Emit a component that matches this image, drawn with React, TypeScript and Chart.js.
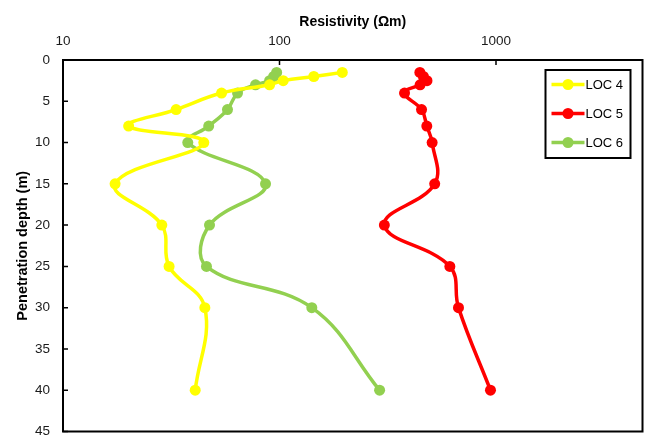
import React, { useEffect, useRef } from 'react';
import { Chart, registerables } from 'chart.js';

Chart.register(...registerables);

const depths = [1.5, 2, 2.5, 3, 4, 6, 8, 10, 15, 20, 25, 30, 40];
const loc4 = [195, 144, 104, 90, 54, 33.3, 20.1, 44.7, 17.4, 28.6, 30.9, 45.2, 40.8];
const loc5 = [445, 462, 480, 446, 378, 453, 479, 507, 521, 305, 612, 671, 943];
const loc6 = [97, 94, 90, 77.5, 64, 57.5, 47.1, 37.7, 86.2, 47.5, 46, 141, 290];
const seriesNames = ['LOC 4', 'LOC 5', 'LOC 6'];
const seriesColors = ['#FFFF00', '#FF0000', '#92D050'];
const xTickValues = [10, 100, 1000];
const xMin = 10;
const xMax = 4750;
const yMin = 0;
const yMax = 45;
const yStep = 5;
const xTitle = 'Resistivity (Ωm)';
const yTitle = 'Penetration depth (m)';

const FONT = '"Liberation Sans", Arial, sans-serif';

const framePlugin = {
  id: 'frameTicks',
  beforeDatasetsDraw(chart: any) {
    const { ctx, chartArea: a, scales } = chart;
    ctx.save();
    ctx.strokeStyle = '#000';
    ctx.lineWidth = 2;
    ctx.strokeRect(a.left, a.top, a.right - a.left, a.bottom - a.top);
    ctx.lineWidth = 1.5;
    ctx.beginPath();
    scales.x.ticks.forEach((t: any) => {
      const px = scales.x.getPixelForValue(t.value);
      ctx.moveTo(px, a.top);
      ctx.lineTo(px, a.top + 5);
    });
    scales.y.ticks.forEach((t: any) => {
      const py = scales.y.getPixelForValue(t.value);
      ctx.moveTo(a.left, py);
      ctx.lineTo(a.left + 5, py);
    });
    ctx.stroke();
    ctx.restore();
  },
};

const legendPlugin = {
  id: 'boxLegend',
  afterDraw(chart: any) {
    const { ctx, chartArea: a } = chart;
    const w = 85;
    const h = 88;
    const left = a.right - 12 - w;
    const top = a.top + 10;
    ctx.save();
    ctx.fillStyle = '#fff';
    ctx.fillRect(left, top, w, h);
    ctx.strokeStyle = '#000';
    ctx.lineWidth = 2;
    ctx.strokeRect(left, top, w, h);
    chart.data.datasets.forEach((ds: any, i: number) => {
      const y = top + 14.5 + i * 29;
      ctx.strokeStyle = ds.borderColor;
      ctx.lineWidth = 3.5;
      ctx.beginPath();
      ctx.moveTo(left + 6, y);
      ctx.lineTo(left + 39, y);
      ctx.stroke();
      ctx.fillStyle = ds.backgroundColor;
      ctx.beginPath();
      ctx.arc(left + 22.5, y, 5.5, 0, Math.PI * 2);
      ctx.fill();
      ctx.fillStyle = '#000';
      ctx.font = `13px ${FONT}`;
      ctx.textAlign = 'left';
      ctx.textBaseline = 'middle';
      ctx.fillText(ds.label, left + 40, y + 0.5);
    });
    ctx.restore();
  },
};

export default function App() {
  const ref = useRef<HTMLCanvasElement | null>(null);

  useEffect(() => {
    if (!ref.current) return;
    const series = [loc4, loc5, loc6];
    const chart = new Chart(ref.current, {
      type: 'scatter',
      data: {
        datasets: series.map((vals, i) => ({
          label: seriesNames[i],
          data: vals.map((v, j) => ({ x: v, y: depths[j] })),
          showLine: true,
          borderColor: seriesColors[i],
          backgroundColor: seriesColors[i],
          borderWidth: 3.5,
          pointRadius: 5.5,
          pointBorderWidth: 0,
          tension: 0.4,
        })),
      },
      options: {
        responsive: false,
        animation: false,
        layout: { padding: { left: 0, right: 5, top: 0, bottom: 3.5 } },
        plugins: {
          legend: { display: false },
          tooltip: { enabled: false },
        },
        scales: {
          x: {
            type: 'logarithmic',
            position: 'top',
            min: xMin,
            max: xMax,
            afterBuildTicks: (scale: any) => {
              scale.ticks = xTickValues.map((v) => ({ value: v }));
            },
            afterFit: (scale: any) => {
              scale.height = 60;
              scale.paddingLeft = 0;
              scale.paddingRight = 0;
            },
            grid: { display: false, drawTicks: false },
            border: { display: false },
            ticks: {
              padding: 11,
              color: '#1a1a1a',
              font: { family: FONT, size: 13.5 },
              maxRotation: 0,
              callback: (v: any) => String(v),
            },
            title: {
              display: true,
              text: xTitle,
              color: '#000',
              font: { family: FONT, size: 14, weight: 'bold' },
              padding: { top: 14, bottom: 0 },
            },
          },
          y: {
            type: 'linear',
            reverse: true,
            min: yMin,
            max: yMax,
            afterFit: (scale: any) => {
              scale.width = 63;
              scale.paddingTop = 0;
              scale.paddingBottom = 0;
            },
            grid: { display: false, drawTicks: false },
            border: { display: false },
            ticks: {
              stepSize: yStep,
              padding: 13,
              color: '#1a1a1a',
              font: { family: FONT, size: 13.5 },
            },
            title: {
              display: true,
              text: yTitle,
              color: '#000',
              font: { family: FONT, size: 14.5, weight: 'bold' },
              padding: { top: 14, bottom: 0 },
            },
          },
        },
      },
      plugins: [framePlugin, legendPlugin],
    } as any);
    return () => chart.destroy();
  }, []);

  return (
    <div style={{ position: 'fixed', left: 0, top: 0, width: 648, height: 437, background: '#fff' }}>
      <canvas ref={ref} width={648} height={437} style={{ display: 'block' }} />
    </div>
  );
}
